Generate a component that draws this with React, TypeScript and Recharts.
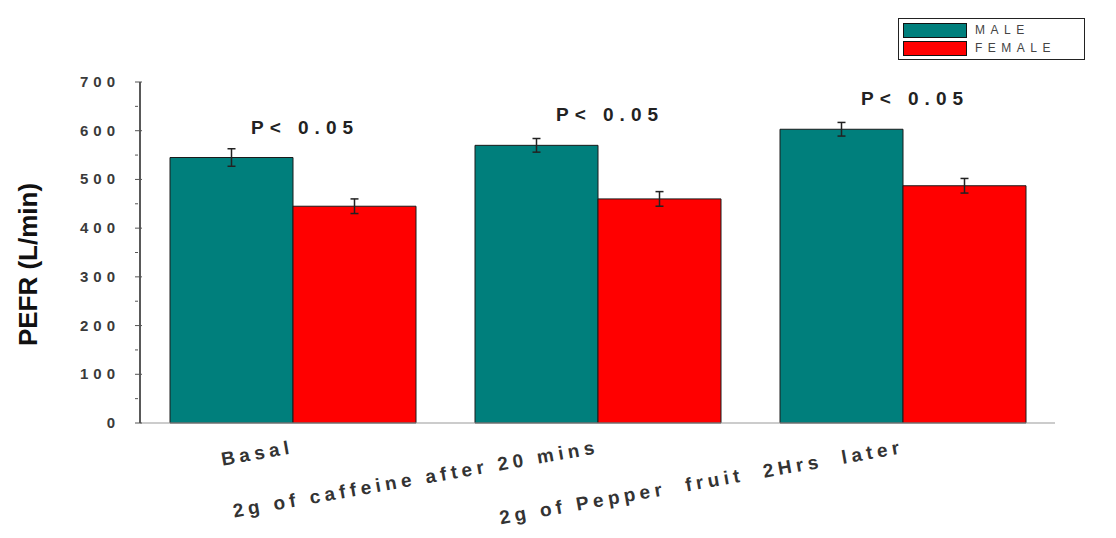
import { BarChart, Bar, XAxis, YAxis, ErrorBar, LabelList } from 'recharts';

const categories = ['Basal', '2g of caffeine after 20 mins', '2g of Pepper  fruit  2Hrs  later'];
const maleValues = [545, 570, 603];
const femaleValues = [445, 460, 487];
const maleErrors = [18, 14, 14];
const femaleErrors = [15, 15, 15];
const pLabels = ['P< 0.05', 'P< 0.05', 'P< 0.05'];
const yTicks = [0, 50, 100, 150, 200, 250, 300, 350, 400, 450, 500, 550, 600, 650, 700];
const seriesNames = ['MALE', 'FEMALE'];

const TEAL = '#007f7c';
const RED = '#ff0000';
const FONT = '"Liberation Sans", Arial, sans-serif';

const data = categories.map((name, i) => ({
  name,
  male: maleValues[i],
  female: femaleValues[i],
  maleErr: maleErrors[i],
  femaleErr: femaleErrors[i],
  p: pLabels[i],
}));

// y tick: label only on hundreds, short minor tick otherwise
function YTick(props: any) {
  const { x, y, payload } = props;
  const major = payload.value % 100 === 0;
  return (
    <g>
      <line x1={x + 3} x2={x + (major ? 10 : 6)} y1={y} y2={y} stroke="#555" strokeWidth={1} />
      {major && (
        <text x={x - 12} y={y + 5} textAnchor="end" fontFamily={FONT} fontWeight="bold" fontSize={15} letterSpacing={5} fill="#3a3a3a">
          {payload.value}
        </text>
      )}
    </g>
  );
}

function XTick(props: any) {
  const { x, y, payload } = props;
  return (
    <text
      x={x + 2}
      y={y + 22}
      textAnchor="end"
      transform={`rotate(-10, ${x + 2}, ${y + 22})`}
      fontFamily={FONT}
      fontWeight="bold"
      fontSize={19}
      letterSpacing={4.5}
      fill="#333"
      style={{ whiteSpace: 'pre' }}
    >
      {payload.value}
    </text>
  );
}

function PLabel(props: any) {
  const { x, y, width, value } = props;
  return (
    <text
      x={x + width + 12}
      y={y - 24}
      textAnchor="middle"
      fontFamily={FONT}
      fontWeight="bold"
      fontSize={19}
      letterSpacing={6}
      fill="#222"
      style={{ whiteSpace: 'pre' }}
    >
      {value}
    </text>
  );
}

function LegendBox() {
  const colors = [TEAL, RED];
  return (
    <div style={{ position: 'absolute', top: 18, left: 898, border: '1px solid #222', padding: '2px 4px', width: 187, boxSizing: 'border-box', background: '#fff' }}>
      {seriesNames.map((label, i) => (
        <div key={label} style={{ display: 'flex', alignItems: 'center', height: 18 }}>
          <div style={{ width: 64, height: 15, background: colors[i], border: '1.5px solid #111', boxSizing: 'border-box' }} />
          <span style={{ marginLeft: 8, fontFamily: FONT, fontSize: 12, letterSpacing: 5.5, color: '#444' }}>{label}</span>
        </div>
      ))}
    </div>
  );
}

export default function App() {
  return (
    <div style={{ position: 'absolute', left: 0, top: 0, width: 1116, height: 538, background: '#fff' }}>
      <BarChart width={1116} height={538} data={data} margin={{ top: 82, right: 61, bottom: 85, left: 60 }} barCategoryGap={30} barGap={0}>
        <XAxis dataKey="name" height={30} tick={<XTick />} tickLine={false} axisLine={{ stroke: '#999' }} interval={0} />
        <YAxis
          domain={[0, 700]}
          ticks={yTicks}
          interval={0}
          tick={<YTick />}
          tickLine={false}
          width={80}
          axisLine={{ stroke: '#222', strokeWidth: 1.5 }}
          label={{
            value: 'PEFR (L/min)',
            angle: -90,
            position: 'insideLeft',
            offset: -32,
            dy: 12,
            style: { fontFamily: FONT, fontWeight: 'bold', fontSize: 26, fill: '#111', textAnchor: 'middle' },
          }}
        />
        <Bar dataKey="male" name={seriesNames[0]} fill={TEAL} stroke="#1a1a1a" strokeWidth={1} isAnimationActive={false}>
          <ErrorBar dataKey="maleErr" width={4} stroke="#222" strokeWidth={1.5} direction="y" />
          <LabelList dataKey="p" content={<PLabel />} />
        </Bar>
        <Bar dataKey="female" name={seriesNames[1]} fill={RED} stroke="#1a1a1a" strokeWidth={1} isAnimationActive={false}>
          <ErrorBar dataKey="femaleErr" width={4} stroke="#222" strokeWidth={1.5} direction="y" />
        </Bar>
      </BarChart>
      <LegendBox />
    </div>
  );
}
